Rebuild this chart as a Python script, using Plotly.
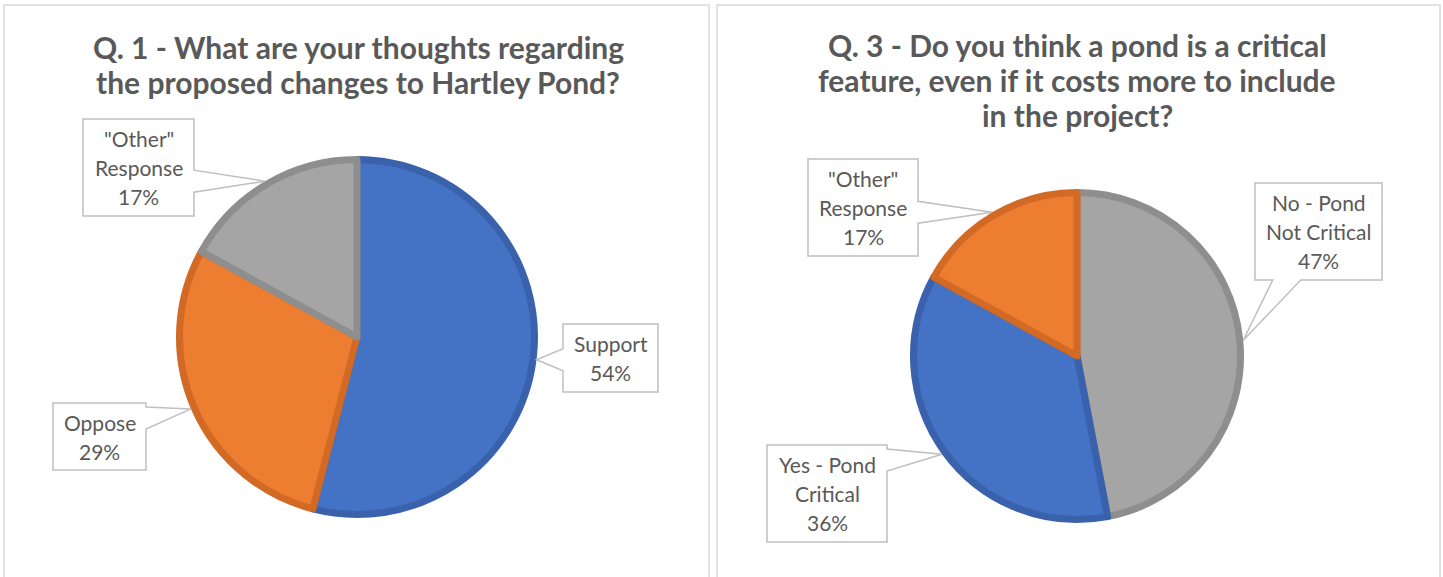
import math
import plotly.graph_objects as go

W, H = 1443, 577

# ---- data ----
q1_title = ["Q. 1 - What are your thoughts regarding", "the proposed changes to Hartley Pond?"]
q1_labels = ["Support", "Oppose", "\"Other\" Response"]
q1_label_lines = [["Support", "54%"], ["Oppose", "29%"], ["\"Other\"", "Response", "17%"]]
q1_values = [54, 29, 17]

q3_title = ["Q. 3 - Do you think a pond is a critical", "feature, even if it costs more to include", "in the project?"]
q3_labels = ["No - Pond Not Critical", "Yes - Pond Critical", "\"Other\" Response"]
q3_label_lines = [["No - Pond", "Not Critical", "47%"], ["Yes - Pond", "Critical", "36%"], ["\"Other\"", "Response", "17%"]]
q3_values = [47, 36, 17]

BLUE, ORANGE, GRAY = "#4472C4", "#ED7D31", "#A5A5A5"
BLUE_D, ORANGE_D, GRAY_D = "#3A62AC", "#D26A25", "#8E8E8E"
q1_colors, q1_lines = [BLUE, ORANGE, GRAY], [BLUE_D, ORANGE_D, GRAY_D]
q3_colors, q3_lines = [GRAY, BLUE, ORANGE], [GRAY_D, BLUE_D, ORANGE_D]

TITLE_FONT = "Lato"
TEXT_C = "#595959"

# ---- layout (pixels) ----
panels = [(4, 5, 709, 600), (717, 5, 1440, 600)]
pies = [
    dict(cx=357, cy=337, r=181, values=q1_values, labels=q1_labels, colors=q1_colors, lines=q1_lines,
         lab=q1_label_lines, boxes=[(563, 324, 658, 392), (53, 403, 146, 470), (83, 119, 194, 216)],
         title=q1_title, tx=358, ty=[47, 82]),
    dict(cx=1077, cy=356, r=167, values=q3_values, labels=q3_labels, colors=q3_colors, lines=q3_lines,
         lab=q3_label_lines, boxes=[(1255, 183, 1382, 280), (767, 445, 887, 542), (808, 159, 918, 256)],
         title=q3_title, tx=1077, ty=[45, 80, 115]),
]

def px(x):
    return x / W

def py(y):
    return 1 - y / H

fig = go.Figure()
shapes = []
annotations = []

for (x0, y0, x1, y1) in panels:
    shapes.append(dict(type="rect", xref="paper", yref="paper", x0=px(x0), x1=px(x1), y0=py(y1), y1=py(y0),
                       line=dict(color="#D9D9D9", width=1.5), fillcolor="rgba(0,0,0,0)", layer="below"))

LW = 7
for p in pies:
    rr = p["r"] - LW / 2
    fig.add_trace(go.Pie(
        values=p["values"], labels=p["labels"], sort=False, direction="clockwise", rotation=0,
        textinfo="none", hoverinfo="label+percent", showlegend=False,
        marker=dict(colors=p["colors"], line=dict(color=p["lines"], width=LW)),
        domain=dict(x=[px(p["cx"] - rr), px(p["cx"] + rr)], y=[py(p["cy"] + rr), py(p["cy"] - rr)]),
    ))
    for i, line in enumerate(p["title"]):
        annotations.append(dict(xref="paper", yref="paper", x=px(p["tx"]), y=py(p["ty"][i]),
                                text="<b>" + line + "</b>", showarrow=False, xanchor="center", yanchor="middle",
                                font=dict(family=TITLE_FONT, size=30, color=TEXT_C)))
    total = sum(p["values"])
    cum = 0
    for i, v in enumerate(p["values"]):
        mid = (cum + v / 2) / total * 2 * math.pi
        cum += v
        tx = p["cx"] + p["r"] * math.sin(mid)
        ty = p["cy"] - p["r"] * math.cos(mid)
        bx0, by0, bx1, by1 = p["boxes"][i]
        # build callout path (pixels)
        if by0 <= ty <= by1:
            hw = 11
            c = min(max(ty, by0 + hw + 4), by1 - hw - 4)
            if tx > bx1:
                pts = [(bx0, by0), (bx1, by0), (bx1, c - hw), (tx, ty), (bx1, c + hw), (bx1, by1), (bx0, by1)]
            else:
                pts = [(bx0, by0), (bx1, by0), (bx1, by1), (bx0, by1), (bx0, c + hw), (tx, ty), (bx0, c - hw)]
        else:
            hw = 14
            m = 0.25 * (bx1 - bx0)
            c = min(max(tx, bx0 + m), bx1 - m)
            if ty > by1:
                pts = [(bx0, by0), (bx1, by0), (bx1, by1), (c + hw, by1), (tx, ty), (c - hw, by1), (bx0, by1)]
            else:
                pts = [(bx0, by0), (c - hw, by0), (tx, ty), (c + hw, by0), (bx1, by0), (bx1, by1), (bx0, by1)]
        path = "M " + " L ".join(f"{px(a):.6f},{py(b):.6f}" for a, b in pts) + " Z"
        shapes.append(dict(type="path", xref="paper", yref="paper", path=path,
                           line=dict(color="#BFBFBF", width=1.5), fillcolor="white", layer="above"))
        lines = p["lab"][i]
        n = len(lines)
        cyb = (by0 + by1) / 2
        sp = 29
        for k, t in enumerate(lines):
            yy = cyb + (k - (n - 1) / 2) * sp
            annotations.append(dict(xref="paper", yref="paper", x=px((bx0 + bx1) / 2), y=py(yy), text=t,
                                    showarrow=False, xanchor="center", yanchor="middle",
                                    font=dict(family="Lato", size=21, color=TEXT_C)))

fig.update_layout(width=W, height=H, margin=dict(l=0, r=0, t=0, b=0),
                  paper_bgcolor="white", plot_bgcolor="white",
                  shapes=shapes, annotations=annotations)

fig.write_html("out.html")
